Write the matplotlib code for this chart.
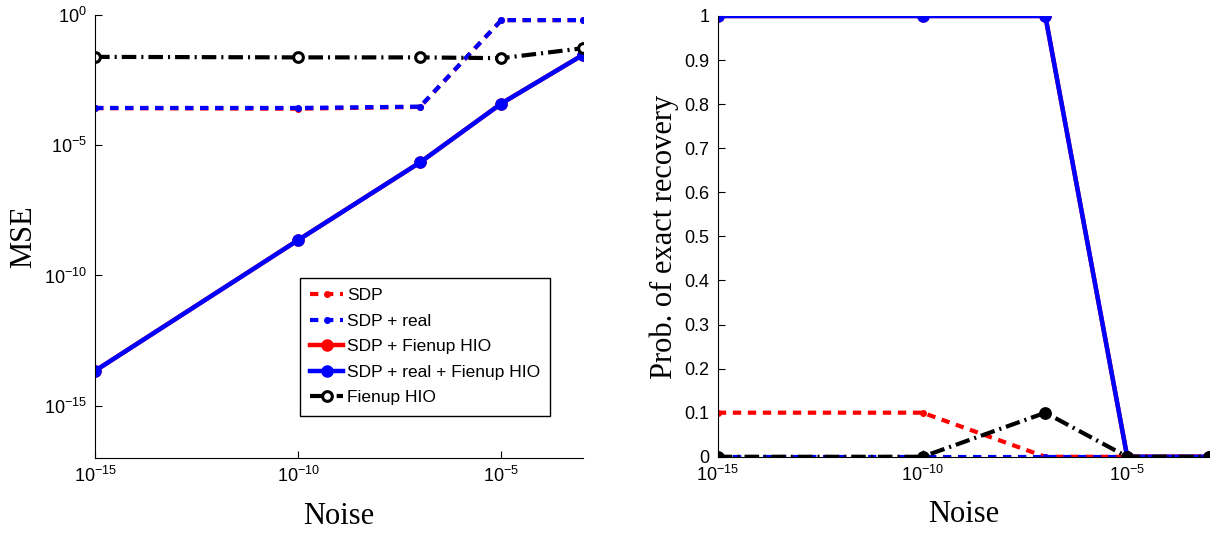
import numpy as np
import matplotlib.pyplot as plt

# noise levels (x axis, both panels)
noise = [1e-15, 1e-10, 1e-7, 1e-5, 1e-3]

# MSE panel (log10 values)
mse_sdp = 10.0 ** np.array([-3.58, -3.60, -3.53, -0.20, -0.20])
mse_sdp_real = 10.0 ** np.array([-3.57, -3.57, -3.52, -0.20, -0.20])
mse_sdp_hio = 10.0 ** np.array([-13.66, -8.64, -5.66, -3.40, -1.54])
mse_sdp_real_hio = 10.0 ** np.array([-13.66, -8.64, -5.66, -3.40, -1.54])
mse_hio = 10.0 ** np.array([-1.61, -1.63, -1.63, -1.66, -1.28])

# probability of exact recovery panel
p_sdp = [0.1, 0.1, 0.0, 0.0, 0.0]
p_sdp_real = [0.0, 0.0, 0.0, 0.0, 0.0]
p_sdp_hio = [1.0, 1.0, 1.0, 0.0, 0.0]
p_sdp_real_hio = [1.0, 1.0, 1.0, 0.0, 0.0]
p_hio = [0.0, 0.0, 0.1, 0.0, 0.0]

labels = ["SDP", "SDP + real", "SDP + Fienup HIO", "SDP + real + Fienup HIO", "Fienup HIO"]

plt.rcParams["font.family"] = ["Liberation Sans", "DejaVu Sans"]
plt.rcParams["mathtext.fontset"] = "custom"
plt.rcParams["mathtext.rm"] = "Liberation Sans"

fig = plt.figure(figsize=(12.25, 5.33), dpi=100)
ax1 = fig.add_axes([0.0776, 0.141, 0.398, 0.831])
ax2 = fig.add_axes([0.586, 0.143, 0.401, 0.827])

dot = (2.0, 1.6)


def draw(ax, series, hio_face):
    a, b, c, d, e = series
    ax.plot(noise, a, color="red", lw=3, dashes=dot, marker="o", ms=4, label=labels[0])
    ax.plot(noise, b, color="blue", lw=3, dashes=dot, marker="o", ms=4, label=labels[1])
    ax.plot(noise, c, color="red", lw=3.2, marker="o", ms=8, label=labels[2])
    ax.plot(noise, d, color="blue", lw=3.2, marker="o", ms=8, label=labels[3])
    ax.plot(noise, e, color="black", lw=3, dashes=(3.5, 1.2, 0.5, 1.2), marker="o", ms=7,
            mfc=hio_face, mew=2.2, label=labels[4])


draw(ax1, [mse_sdp, mse_sdp_real, mse_sdp_hio, mse_sdp_real_hio, mse_hio], "white")
draw(ax2, [p_sdp, p_sdp_real, p_sdp_hio, p_sdp_real_hio, p_hio], "black")

for ax in (ax1, ax2):
    ax.set_xscale("log")
    ax.set_xlim(1e-15, 1e-3)
    ax.set_xticks([1e-15, 1e-10, 1e-5])
    ax.spines["top"].set_visible(False)
    ax.spines["right"].set_visible(False)
    ax.tick_params(direction="in", labelsize=13, length=5, pad=6)
    ax.set_xlabel("Noise", family="Liberation Serif", fontsize=22, labelpad=11)

ax1.set_yscale("log")
ax1.set_ylim(1e-17, 1e0)
ax1.set_yticks([1e-15, 1e-10, 1e-5, 1e0])
ax1.set_ylabel("MSE", family="Liberation Serif", fontsize=22)

ax2.set_ylim(0, 1)
ax2.set_yticks(np.arange(0, 1.01, 0.1))
ax2.set_yticklabels(["0", "0.1", "0.2", "0.3", "0.4", "0.5", "0.6", "0.7", "0.8", "0.9", "1"])
ax2.set_ylabel("Prob. of exact recovery", family="Liberation Serif", fontsize=22)

for ax in (ax1, ax2):
    ax.minorticks_off()
    for lab in ax.get_xticklabels() + ax.get_yticklabels():
        lab.set_clip_on(False)

leg = ax1.legend(loc="lower left", bbox_to_anchor=(0.42, 0.095), fontsize=12.5,
                 fancybox=False, edgecolor="black", framealpha=1, handlelength=1.9,
                 handletextpad=0.2, borderpad=0.6, labelspacing=0.6, borderaxespad=0)
leg.get_frame().set_linewidth(1.0)

fig.savefig("out.png", dpi=100)
